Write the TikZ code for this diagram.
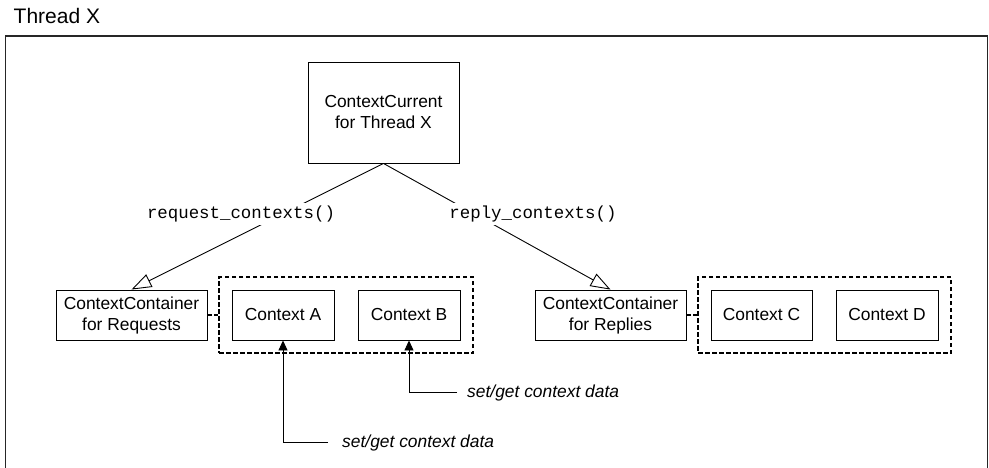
\documentclass[tikz,border=0pt]{standalone}
\usepackage{fontspec}
\setmainfont{Liberation Sans}
\setmonofont{Liberation Mono}
\usetikzlibrary{arrows.meta}
\begin{document}
\begin{tikzpicture}[x=1pt,y=-1pt,
  every node/.style={font=\fontsize{17.4}{21}\selectfont},
  box/.style={draw=black,line width=0.9pt,inner sep=0pt,align=center,fill=white},
  grp/.style={draw=black,line width=1.7pt,dash pattern=on 4.5pt off 2.5pt,inner sep=0pt},
  lbl/.style={fill=white,inner xsep=2pt,inner ysep=0pt,text height=15pt,text depth=7pt,font=\fontsize{17.4}{21}\selectfont\ttfamily},
  note/.style={inner sep=0pt,font=\fontsize{17.4}{21}\selectfont\itshape},
  openarrow/.style={line width=0.9pt,-{Triangle[open,length=20pt,width=14pt,line width=0.9pt]}},
  fillarrow/.style={line width=0.9pt,-{Triangle[length=10pt,width=9pt]}},
  gconn/.style={line width=1.7pt,dash pattern=on 4.5pt off 2.5pt}
]
\useasboundingbox (0,0) rectangle (989,467);
\draw[line width=1.4pt,draw=black!85] (5.5,36) rectangle (987.5,480);
\node[anchor=base west,inner sep=0pt,font=\fontsize{21}{25}\selectfont] (title) at (13.5,23) {Thread X};

\node[box,minimum width=151pt,minimum height=101pt] (cc) at (383.5,112.5) {ContextCurrent\\for Thread X};

\node[box,minimum width=151pt,minimum height=50pt] (reqc) at (131.5,315) {ContextContainer\\for Requests};
\node[box,minimum width=151pt,minimum height=50pt] (repc) at (610.5,315) {ContextContainer\\for Replies};

\node[grp,minimum width=254pt,minimum height=76pt] (gl) at (346,315) {};
\node[grp,minimum width=253pt,minimum height=76pt] (gr) at (824.5,315) {};

\node[box,minimum width=102pt,minimum height=50pt] (ca) at (283,315) {Context A};
\node[box,minimum width=102pt,minimum height=50pt] (cb) at (409,315) {Context B};
\node[box,minimum width=101pt,minimum height=50pt] (cC) at (761.5,315) {Context C};
\node[box,minimum width=102pt,minimum height=50pt] (cD) at (887,315) {Context D};

\draw[openarrow] (cc.south) -- (reqc.north);
\draw[openarrow] (cc.south) -- (repc.north);
\node[lbl,anchor=base] (lreq) at (241,218) {request\_contexts()};
\node[lbl,anchor=base] (lrep) at (533,218) {reply\_contexts()};

\draw[gconn] (reqc.east) -- (gl.west);
\draw[gconn] (repc.east) -- (gr.west);

\node[note,anchor=base west] (na) at (342,447) {set/get context data};
\node[note,anchor=base west] (nb) at (467,397) {set/get context data};
\draw[fillarrow] ([xshift=-14pt]na.west |- 0,442) -| (ca.south);
\draw[fillarrow] ([xshift=-10pt]nb.west |- 0,392) -| (cb.south);
\end{tikzpicture}
\end{document}
